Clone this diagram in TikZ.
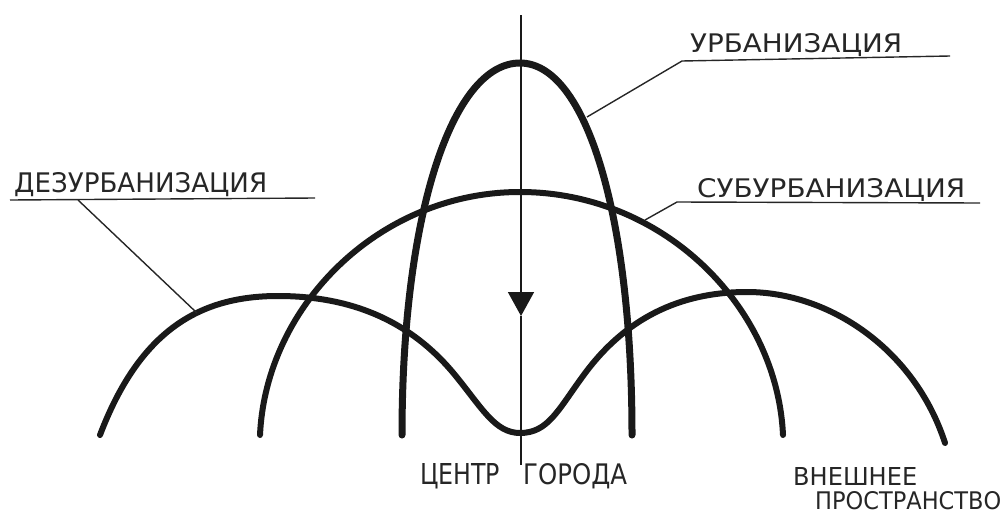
\documentclass[tikz,border=0pt]{standalone}
\usepackage{fontspec}
\setmainfont{DejaVu Sans}
\usetikzlibrary{arrows.meta}
\tikzset{
  curve/.style={line width=6pt, line cap=round, draw=black!90},
  leader/.style={line width=1.4pt, draw=black!85},
  axisline/.style={line width=1.6pt, draw=black!90},
  lbl/.style={inner sep=0pt, text=black!85}
}
\begin{document}
\begin{tikzpicture}[x=1pt,y=-1pt]
\useasboundingbox (0,0) rectangle (1008,514);
% axis
\coordinate (axtop) at (521,15);
\coordinate (axmid) at (521,316);
\coordinate (axbot) at (521,465);
\draw[axisline,-{Triangle[width=26pt,length=24pt]}] (axtop) -- (axmid);
\draw[axisline] (axmid) -- (axbot);
% urbanization
\draw[curve,line width=7pt] (402,435) .. controls (402,215) and (452,63) .. (520,63)
  .. controls (586,63) and (632,215) .. (632,435);
% suburbanization
\draw[curve] (260,435) .. controls (266,305) and (380,192) .. (520,192)
  .. controls (662,192) and (777,305) .. (783,435);
% desurbanization
\draw[curve] (100,435) .. controls (140,330) and (200,296) .. (278,296)
  .. controls (350,296) and (410,320) .. (455,375)
  .. controls (482,408) and (495,433) .. (520,433)
  .. controls (548,433) and (558,410) .. (583,376)
  .. controls (625,318) and (680,292) .. (747,292)
  .. controls (830,292) and (915,350) .. (945,443);
% labels
\node[lbl,anchor=base west] (urb) at (690,52) {\resizebox{212pt}{19pt}{УРБАНИЗАЦИЯ}};
\node[lbl,anchor=base west] (dez) at (14,192) {\resizebox{253pt}{20pt}{ДЕЗУРБАНИЗАЦИЯ}};
\node[lbl,anchor=base west] (sub) at (697,197) {\resizebox{268pt}{19pt}{СУБУРБАНИЗАЦИЯ}};
\node[lbl,anchor=base west] (cen) at (420,484) {\resizebox{80pt}{21pt}{ЦЕНТР}};
\node[lbl,anchor=base west] (gor) at (523,484) {\resizebox{104pt}{21pt}{ГОРОДА}};
\node[lbl,anchor=base west] (vn1) at (793,485) {\resizebox{124pt}{18pt}{ВНЕШНЕЕ}};
\node[lbl,anchor=base west] (vn2) at (815,509) {\resizebox{186pt}{18pt}{ПРОСТРАНСТВО}};
% underlines and leaders
\coordinate (u1) at (682,61);
\coordinate (u2) at (950,56);
\coordinate (u3) at (587,117);
\draw[leader] (u2) -- (u1) -- (u3);
\coordinate (d1) at (10,200);
\coordinate (d2) at (315,198);
\coordinate (d3) at (78,200);
\coordinate (d4) at (197,313);
\draw[leader] (d1) -- (d2);
\draw[leader] (d3) -- (d4);
\coordinate (s1) at (677,202);
\coordinate (s2) at (980,203);
\coordinate (s3) at (645,220);
\draw[leader] (s2) -- (s1) -- (s3);
\end{tikzpicture}
\end{document}
